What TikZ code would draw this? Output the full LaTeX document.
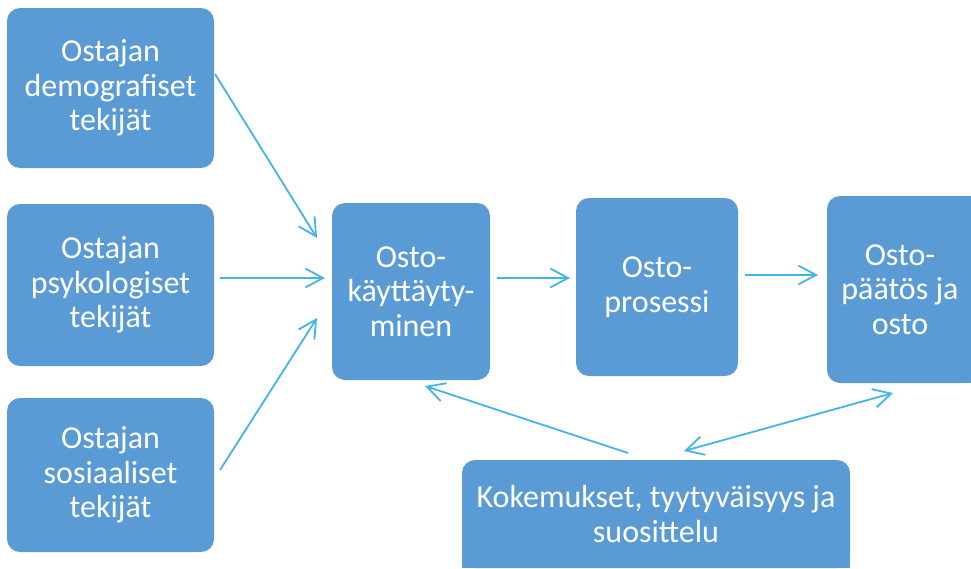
\documentclass[tikz,border=0pt]{standalone}
\usepackage{fontspec}
\setmainfont{Carlito}
\usetikzlibrary{arrows.meta}
\definecolor{boxblue}{HTML}{5B9BD5}
\definecolor{arrowblue}{HTML}{41B6E6}
\begin{document}
\begin{tikzpicture}[x=1pt,y=-1pt,
  box/.style={fill=boxblue, rounded corners=13pt, text=white, align=center,
    font=\fontsize{32}{34.5}\selectfont, inner sep=0pt},
  conn/.style={draw=arrowblue, line width=1.8pt, -{Straight Barb[angle=56:20pt, line width=1.8pt]}},
  dconn/.style={draw=arrowblue, line width=1.8pt, {Straight Barb[angle=56:20pt, line width=1.8pt]}-{Straight Barb[angle=56:20pt, line width=1.8pt]}}]
\useasboundingbox (0,0) rectangle (971,568);
\node[box, minimum width=207pt, minimum height=160pt] (d) at (110.5,88) {Ostajan\\demografiset\\tekijät};
\node[box, minimum width=207pt, minimum height=162pt] (p) at (110.5,285) {Ostajan\\psykologiset\\tekijät};
\node[box, minimum width=207pt, minimum height=154pt] (s) at (110.5,475) {Ostajan\\sosiaaliset\\tekijät};
\node[box, minimum width=158pt, minimum height=177pt] (k) at (411,291.5) {Osto-\\käyttäyty-\\minen};
\node[box, minimum width=162pt, minimum height=178pt] (r) at (657,287) {Osto-\\prosessi};
\node[box, minimum width=146pt, minimum height=187pt] (o) at (900,289.5) {Osto-\\päätös ja\\osto};
\fill[boxblue] ([xshift=-16pt]o.north east) rectangle (o.south east);
\node[box, minimum width=388pt, minimum height=108pt] (e) at (656,514) {Kokemukset, tyytyväisyys ja\\suosittelu};
\fill[boxblue] (e.south west) rectangle ([yshift=16pt]e.south east);
\coordinate (a1s) at (215,74);  \coordinate (a1e) at (317,238);
\coordinate (a2s) at (220,278); \coordinate (a2e) at (325,278);
\coordinate (a3s) at (220,470); \coordinate (a3e) at (317,318);
\coordinate (a4s) at (497,278); \coordinate (a4e) at (570,278);
\coordinate (a5s) at (745,275); \coordinate (a5e) at (818,275);
\coordinate (a6s) at (628,453); \coordinate (a6e) at (425,386);
\coordinate (a7s) at (684,451); \coordinate (a7e) at (893,393);
\draw[conn] (a1s) -- (a1e);
\draw[conn] (a2s) -- (a2e);
\draw[conn] (a3s) -- (a3e);
\draw[conn] (a4s) -- (a4e);
\draw[conn] (a5s) -- (a5e);
\draw[conn] (a6s) -- (a6e);
\draw[dconn] (a7s) -- (a7e);
\end{tikzpicture}
\end{document}
